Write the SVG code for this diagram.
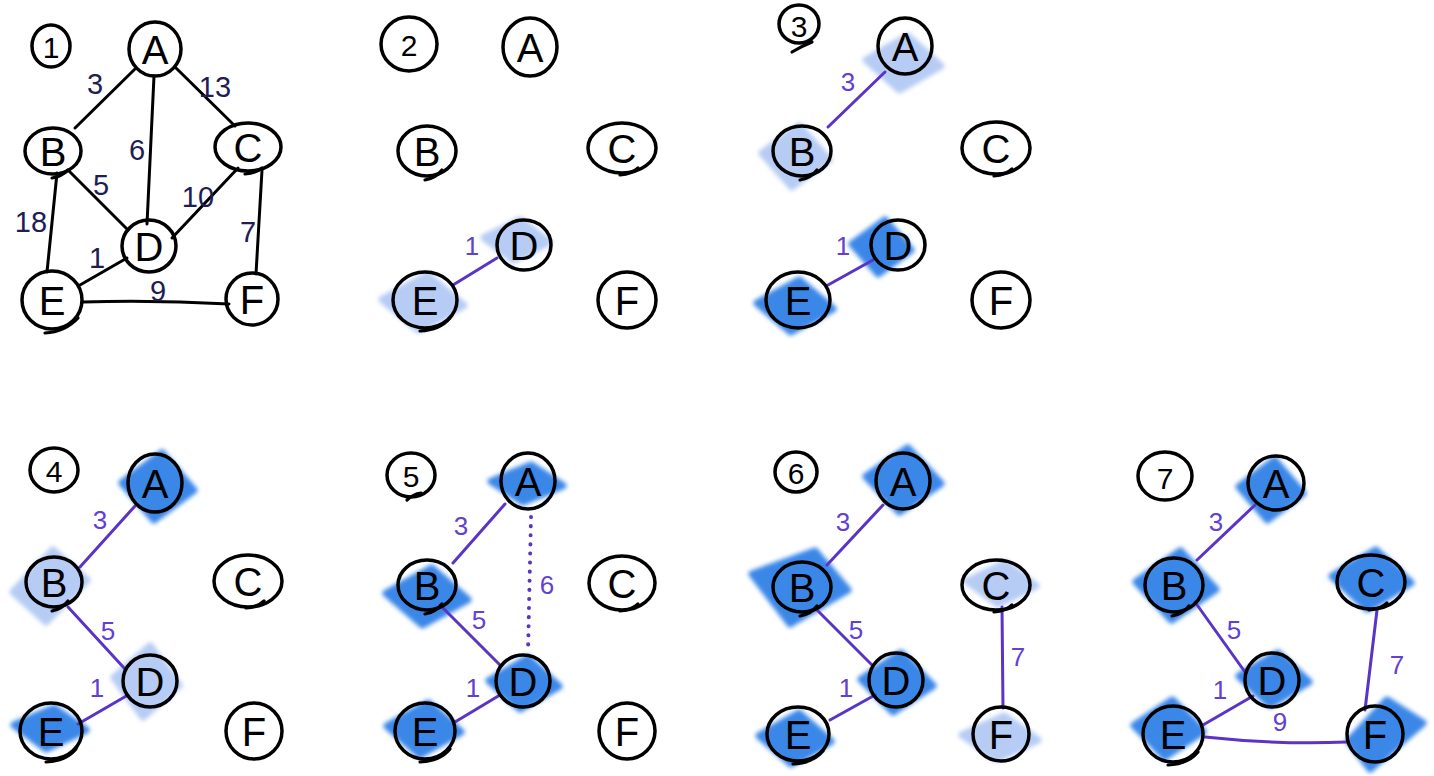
<svg xmlns="http://www.w3.org/2000/svg" width="1434" height="776" viewBox="0 0 1434 776">
<defs>
<filter id="soft" x="-20%" y="-20%" width="140%" height="140%"><feGaussianBlur stdDeviation="2"/></filter>
<style>
.bg{fill:#ffffff}
.hs{fill:#3b87e8;stroke:#3b87e8;stroke-width:7;stroke-linejoin:round;filter:url(#soft)}
.hl{fill:#b6ccf4;stroke:#b6ccf4;stroke-width:7;stroke-linejoin:round;filter:url(#soft)}
.ring{fill:none;stroke:#000;stroke-width:3.5;stroke-linecap:round}
.tail{fill:none;stroke:#000;stroke-width:3.2;stroke-linecap:round}
.lt{font-family:"Liberation Sans",Arial,sans-serif;font-size:40px;fill:#000;text-anchor:middle;dominant-baseline:central}
.st{font-family:"Liberation Sans",Arial,sans-serif;font-size:30px;fill:#000;text-anchor:middle;dominant-baseline:central}
.eb{fill:none;stroke:#000;stroke-width:3;stroke-linecap:round}
.ep{fill:none;stroke:#5a34c6;stroke-width:3;stroke-linecap:round}
.dot{fill:none;stroke:#5a34c6;stroke-width:4;stroke-linecap:round;stroke-dasharray:0.1 9}
.wb{font-family:"Liberation Sans",Arial,sans-serif;font-size:29px;fill:#211c52;text-anchor:middle;dominant-baseline:central}
.wp{font-family:"Liberation Sans",Arial,sans-serif;font-size:26px;fill:#6140d2;text-anchor:middle;dominant-baseline:central}
</style>
</defs>
<rect class="bg" x="0" y="0" width="1434" height="776"/>

<g id="highlights">
<polygon class="hl" points="484,237.7 520.2,220 549,242.3 512.9,260"/>
<polygon class="hl" points="382,299.5 427.5,275 464,305.5 418.5,330"/>
<polygon class="hl" points="866,60 907.7,36 941,66 899.4,90"/>
<polygon class="hl" points="762,153.2 799.3,126 829,159.9 791.8,187"/>
<polygon class="hs" points="852,244 884.9,220 911,250 878.2,274"/>
<polygon class="hs" points="757,303.1 799.2,280 833,308.9 790.8,332"/>
<polygon class="hs" points="122,482.9 162,453 194,490.2 154,520"/>
<polygon class="hl" points="13,592 53,550 87,580 46,622"/>
<polygon class="hl" points="114,677.7 150.2,646 179,685.4 142.9,717"/>
<polygon class="hs" points="14,725 54,708 86,730 46,749"/>
<polygon class="hs" points="491,481.4 531,465 563,485.7 523,502"/>
<polygon class="hs" points="386,593.4 431.5,568 468,599.7 422.5,625"/>
<polygon class="hs" points="489,680.7 527.9,658 559,686.4 520.1,709"/>
<polygon class="hs" points="387,726.1 428.1,703 461,731.9 419.9,755"/>
<polygon class="hs" points="866,476.5 907.7,448 941,483.5 899.4,512"/>
<polygon class="hs" points="752,574 815,551 848,590 790,624"/>
<polygon class="hl" points="967,581.2 1005.4,563 1036,585.9 997.7,604"/>
<polygon class="hs" points="861,679.3 901,653 933,685.8 893,712"/>
<polygon class="hs" points="759,735.7 799,713 831,741.4 791,764"/>
<polygon class="hl" points="962,735 1004.2,716 1038,740 995.8,759"/>
<polygon class="hs" points="1239,486.7 1274.6,460 1303,493.3 1267.4,520"/>
<polygon class="hs" points="1136,581.8 1180.4,551 1216,589.3 1171.6,620"/>
<polygon class="hs" points="1332,576.3 1375.9,550 1411,582.8 1367.2,609"/>
<polygon class="hs" points="1239,676.1 1277.9,653 1309,681.9 1270.1,705"/>
<polygon class="hs" points="1134,725.4 1172.4,700 1203,731.7 1164.7,757"/>
<polygon class="hs" points="1349,741 1387,700 1423,723 1370,769"/>
</g>

<g id="connectors">
<!-- panel 1 -->
<line class="eb" x1="136" y1="68" x2="75" y2="128"/>
<line class="eb" x1="176" y1="68" x2="235" y2="126"/>
<line class="eb" x1="154" y1="76" x2="147" y2="224"/>
<line class="eb" x1="68" y1="170" x2="128" y2="230"/>
<line class="eb" x1="57" y1="173" x2="47" y2="272"/>
<line class="eb" x1="238" y1="168" x2="172" y2="238"/>
<line class="eb" x1="262" y1="170" x2="256" y2="274"/>
<line class="eb" x1="127" y1="258" x2="80" y2="285"/>
<path class="eb" d="M83,302 Q155,300 229,304"/>
<text class="wb" x="95" y="84">3</text>
<text class="wb" x="215" y="87">13</text>
<text class="wb" x="137" y="150">6</text>
<text class="wb" x="101" y="185">5</text>
<text class="wb" x="198" y="197">10</text>
<text class="wb" x="31" y="222">18</text>
<text class="wb" x="248" y="232">7</text>
<text class="wb" x="97" y="258">1</text>
<text class="wb" x="158" y="291">9</text>
<!-- panel 2 -->
<line class="ep" x1="497" y1="258" x2="453" y2="285"/>
<text class="wp" x="472" y="246">1</text>
<!-- panel 3 -->
<line class="ep" x1="885" y1="72" x2="828" y2="127"/>
<text class="wp" x="848" y="82">3</text>
<line class="ep" x1="873" y1="260" x2="828" y2="285"/>
<text class="wp" x="843" y="246">1</text>
<!-- panel 4 -->
<line class="ep" x1="135" y1="506" x2="80" y2="567"/>
<text class="wp" x="100" y="520">3</text>
<line class="ep" x1="68" y1="607" x2="125" y2="669"/>
<text class="wp" x="108" y="631">5</text>
<line class="ep" x1="128" y1="695" x2="78" y2="724"/>
<text class="wp" x="97" y="688">1</text>
<!-- panel 5 -->
<line class="ep" x1="505" y1="504" x2="453" y2="563"/>
<text class="wp" x="461" y="526">3</text>
<line class="ep" x1="440" y1="605" x2="500" y2="665"/>
<text class="wp" x="479" y="620">5</text>
<line class="ep" x1="500" y1="695" x2="455" y2="722"/>
<text class="wp" x="473" y="688">1</text>
<line class="dot" x1="531" y1="517" x2="528" y2="652"/>
<text class="wp" x="547" y="585">6</text>
<!-- panel 6 -->
<line class="ep" x1="883" y1="505" x2="827" y2="565"/>
<text class="wp" x="843" y="522">3</text>
<line class="ep" x1="815" y1="608" x2="872" y2="665"/>
<text class="wp" x="856" y="630">5</text>
<line class="ep" x1="875" y1="695" x2="830" y2="720"/>
<text class="wp" x="846" y="688">1</text>
<line class="ep" x1="1002" y1="607" x2="1003" y2="708"/>
<text class="wp" x="1018" y="657">7</text>
<!-- panel 7 -->
<line class="ep" x1="1255" y1="505" x2="1197" y2="560"/>
<text class="wp" x="1216" y="522">3</text>
<line class="ep" x1="1195" y1="602" x2="1245" y2="672"/>
<text class="wp" x="1234" y="630">5</text>
<line class="ep" x1="1253" y1="696" x2="1203" y2="725"/>
<text class="wp" x="1220" y="690">1</text>
<line class="ep" x1="1377" y1="610" x2="1365" y2="710"/>
<text class="wp" x="1397" y="665">7</text>
<path class="ep" d="M1205,737 Q1280,745 1347,742"/>
<text class="wp" x="1280" y="722">9</text>
</g>

<!-- step labels -->
<g id="step1"><ellipse class="ring" cx="51" cy="46" rx="19" ry="21"/><text class="st" x="51" y="47">1</text></g>
<g id="step2"><ellipse class="ring" cx="409" cy="44" rx="28" ry="27"/><text class="st" x="409" y="45">2</text></g>
<g id="step3"><ellipse class="ring" cx="799" cy="24" rx="20" ry="19"/><path class="tail" d="M792,52 Q802,46 812,42"/><text class="st" x="799" y="26">3</text></g>
<g id="step4"><ellipse class="ring" cx="54" cy="470" rx="24" ry="22"/><text class="st" x="54" y="471">4</text></g>
<g id="step5"><ellipse class="ring" cx="411" cy="475" rx="24" ry="22"/><path class="tail" d="M407,500 Q413,494 421,493"/><text class="st" x="411" y="476">5</text></g>
<g id="step6"><ellipse class="ring" cx="796" cy="472" rx="21" ry="20"/><text class="st" x="796" y="473">6</text></g>
<g id="step7"><ellipse class="ring" cx="1165" cy="476" rx="27" ry="24"/><text class="st" x="1165" y="478">7</text></g>

<!-- panel 1 nodes -->
<g id="p1-A"><ellipse class="ring" cx="155" cy="49" rx="26" ry="27"/><text class="lt" x="155" y="50">A</text></g>
<g id="p1-B"><ellipse class="ring" cx="53" cy="151" rx="28" ry="23"/><path class="tail" d="M52,178 Q62,176 68,170"/><text class="lt" x="53" y="152">B</text></g>
<g id="p1-C"><ellipse class="ring" cx="248" cy="147" rx="33" ry="24"/><path class="tail" d="M245,174 Q256,173 262,168"/><text class="lt" x="248" y="148">C</text></g>
<g id="p1-D"><ellipse class="ring" cx="149" cy="246" rx="27" ry="26"/><text class="lt" x="149" y="247">D</text></g>
<g id="p1-E"><ellipse class="ring" cx="52" cy="300" rx="30" ry="29"/><path class="tail" d="M45,333 Q65,332 78,318"/><text class="lt" x="52" y="301">E</text></g>
<g id="p1-F"><ellipse class="ring" cx="252" cy="299" rx="26" ry="26"/><text class="lt" x="252" y="300">F</text></g>

<!-- panel 2 nodes -->
<g id="p2-A"><ellipse class="ring" cx="530" cy="47" rx="27" ry="29"/><text class="lt" x="530" y="48">A</text></g>
<g id="p2-B"><ellipse class="ring" cx="427" cy="151" rx="29" ry="25"/><path class="tail" d="M425,180 Q436,178 442,170"/><text class="lt" x="427" y="152">B</text></g>
<g id="p2-C"><ellipse class="ring" cx="622" cy="148" rx="34" ry="25"/><path class="tail" d="M620,175 Q632,174 638,168"/><text class="lt" x="622" y="149">C</text></g>
<g id="p2-D"><ellipse class="ring" cx="524" cy="245" rx="27" ry="25"/><text class="lt" x="524" y="246">D</text></g>
<g id="p2-E"><ellipse class="ring" cx="425" cy="300" rx="32" ry="28"/><path class="tail" d="M420,331 Q440,330 450,318"/><text class="lt" x="425" y="301">E</text></g>
<g id="p2-F"><ellipse class="ring" cx="627" cy="300" rx="29" ry="28"/><text class="lt" x="627" y="301">F</text></g>

<!-- panel 3 nodes -->
<g id="p3-A"><ellipse class="ring" cx="905" cy="46" rx="27" ry="28"/><text class="lt" x="905" y="47">A</text></g>
<g id="p3-B"><ellipse class="ring" cx="802" cy="151" rx="29" ry="25"/><path class="tail" d="M800,180 Q811,178 817,170"/><text class="lt" x="802" y="152">B</text></g>
<g id="p3-C"><ellipse class="ring" cx="996" cy="148" rx="34" ry="26"/><path class="tail" d="M994,176 Q1006,175 1012,169"/><text class="lt" x="996" y="149">C</text></g>
<g id="p3-D"><ellipse class="ring" cx="898" cy="245" rx="27" ry="25"/><text class="lt" x="898" y="246">D</text></g>
<g id="p3-E"><ellipse class="ring" cx="798" cy="300" rx="32" ry="28"/><text class="lt" x="798" y="301">E</text></g>
<g id="p3-F"><ellipse class="ring" cx="1001" cy="300" rx="29" ry="28"/><text class="lt" x="1001" y="301">F</text></g>

<!-- panel 4 nodes -->
<g id="p4-A"><ellipse class="ring" cx="155" cy="483" rx="27" ry="29"/><text class="lt" x="155" y="484">A</text></g>
<g id="p4-B"><ellipse class="ring" cx="54" cy="582" rx="28" ry="25"/><path class="tail" d="M52,611 Q62,609 68,601"/><text class="lt" x="54" y="583">B</text></g>
<g id="p4-C"><ellipse class="ring" cx="248" cy="581" rx="34" ry="26"/><path class="tail" d="M246,608 Q258,607 264,601"/><text class="lt" x="248" y="582">C</text></g>
<g id="p4-D"><ellipse class="ring" cx="150" cy="681" rx="27" ry="26"/><text class="lt" x="150" y="682">D</text></g>
<g id="p4-E"><ellipse class="ring" cx="51" cy="731" rx="31" ry="28"/><path class="tail" d="M46,762 Q66,761 76,749"/><text class="lt" x="51" y="732">E</text></g>
<g id="p4-F"><ellipse class="ring" cx="254" cy="731" rx="28" ry="28"/><text class="lt" x="254" y="732">F</text></g>

<!-- panel 5 nodes -->
<g id="p5-A"><ellipse class="ring" cx="528" cy="481" rx="27" ry="28"/><text class="lt" x="528" y="482">A</text></g>
<g id="p5-B"><ellipse class="ring" cx="427" cy="585" rx="29" ry="25"/><path class="tail" d="M425,614 Q436,612 442,604"/><text class="lt" x="427" y="586">B</text></g>
<g id="p5-C"><ellipse class="ring" cx="622" cy="583" rx="33" ry="27"/><path class="tail" d="M620,611 Q632,610 638,604"/><text class="lt" x="622" y="584">C</text></g>
<g id="p5-D"><ellipse class="ring" cx="523" cy="681" rx="27" ry="26"/><text class="lt" x="523" y="682">D</text></g>
<g id="p5-E"><ellipse class="ring" cx="425" cy="731" rx="30" ry="28"/><path class="tail" d="M420,762 Q440,761 450,749"/><text class="lt" x="425" y="732">E</text></g>
<g id="p5-F"><ellipse class="ring" cx="627" cy="731" rx="28" ry="28"/><text class="lt" x="627" y="732">F</text></g>

<!-- panel 6 nodes -->
<g id="p6-A"><ellipse class="ring" cx="903" cy="481" rx="27" ry="28"/><text class="lt" x="903" y="482">A</text></g>
<g id="p6-B"><ellipse class="ring" cx="802" cy="587" rx="29" ry="25"/><path class="tail" d="M800,616 Q811,614 817,606"/><text class="lt" x="802" y="588">B</text></g>
<g id="p6-C"><ellipse class="ring" cx="996" cy="585" rx="34" ry="25"/><path class="tail" d="M994,612 Q1006,611 1012,605"/><text class="lt" x="996" y="586">C</text></g>
<g id="p6-D"><ellipse class="ring" cx="896" cy="680" rx="27" ry="27"/><text class="lt" x="896" y="681">D</text></g>
<g id="p6-E"><ellipse class="ring" cx="798" cy="734" rx="31" ry="27"/><path class="tail" d="M793,764 Q813,763 823,751"/><text class="lt" x="798" y="735">E</text></g>
<g id="p6-F"><ellipse class="ring" cx="1001" cy="734" rx="28" ry="27"/><text class="lt" x="1001" y="735">F</text></g>

<!-- panel 7 nodes -->
<g id="p7-A"><ellipse class="ring" cx="1276" cy="483" rx="28" ry="27"/><text class="lt" x="1276" y="484">A</text></g>
<g id="p7-B"><ellipse class="ring" cx="1174" cy="585" rx="29" ry="27"/><path class="tail" d="M1172,616 Q1183,614 1189,606"/><text class="lt" x="1174" y="586">B</text></g>
<g id="p7-C"><ellipse class="ring" cx="1371" cy="582" rx="34" ry="27"/><path class="tail" d="M1369,610 Q1381,609 1387,603"/><text class="lt" x="1371" y="583">C</text></g>
<g id="p7-D"><ellipse class="ring" cx="1272" cy="680" rx="27" ry="27"/><text class="lt" x="1272" y="681">D</text></g>
<g id="p7-E"><ellipse class="ring" cx="1173" cy="734" rx="30" ry="28"/><path class="tail" d="M1168,765 Q1188,764 1198,752"/><text class="lt" x="1173" y="735">E</text></g>
<g id="p7-F"><ellipse class="ring" cx="1375" cy="734" rx="28" ry="28"/><text class="lt" x="1375" y="735">F</text></g>
</svg>
